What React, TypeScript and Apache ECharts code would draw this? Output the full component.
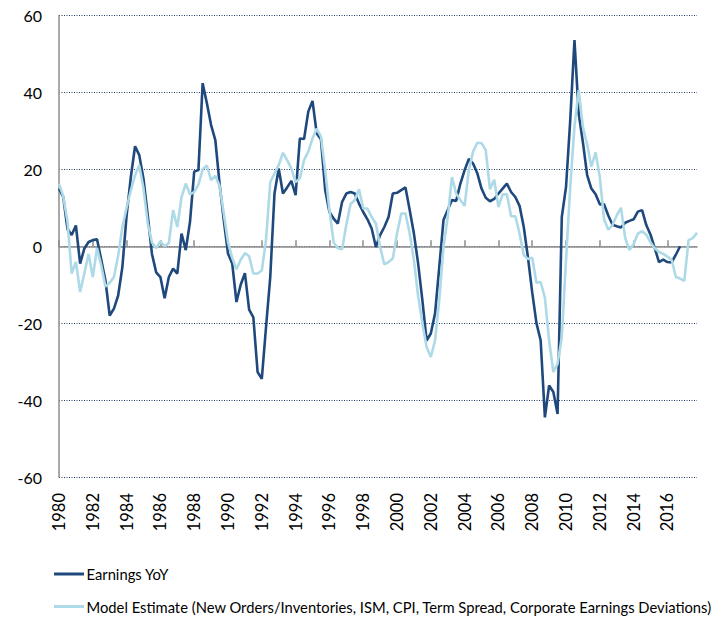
import React, { useEffect, useRef } from "react";
import * as echarts from "echarts";

const startYear = 1980;
const endYear = 2017;

// Quarterly categories 1980Q1 .. 2017Q4
const quarters: string[] = [];
for (let y = startYear; y <= endYear; y++) {
  for (let q = 1; q <= 4; q++) quarters.push(`${y}Q${q}`);
}

const yTicks = [-60, -40, -20, 0, 20, 40, 60];

// Earnings YoY, 1980Q1 .. 2016Q4
const earningsYoY = [
  15, 12.8, 4.5, 2.9,
  5.4, -4.5, -0.6, 1.1,
  1.6, 1.8, -3.5, -9,
  -18, -16.2, -12.8, -5.4,
  8, 18, 26, 23.7,
  17.5, 8, -2, -6.8,
  -8, -13.5, -8, -5.8,
  -7.1, 3.3, -1, 6.3,
  19.4, 19.8, 42.4, 37.2,
  31.5, 27.6, 16.3, 6.8,
  -1.9, -4.5, -14.5, -10,
  -7, -16.5, -18.5, -32.7,
  -34.5, -21, -8, 13.7,
  20.2, 13.7, 15.3, 17,
  13.3, 28, 27.9, 35,
  37.8, 29.3, 27.8, 14.6,
  8.9, 7.2, 5.9, 11.5,
  13.7, 14.1, 13.7, 11.1,
  8.9, 7, 4.6, -0.2,
  2.9, 5, 7.6, 13.7,
  13.9, 14.6, 15.3, 9.4,
  3.3, -4.5, -14, -24.5,
  -22.7, -17.5, -5.4, 6.8,
  9.4, 12, 11.8, 16.3,
  19.8, 22.7, 21.5, 19,
  15, 12.6, 11.7, 12.3,
  13.7, 15, 16.3, 14.1,
  12.8, 10.5, 5, -3,
  -12, -20, -24.5, -44.5,
  -36.2, -37.9, -43.6, 7.6,
  15.4, 32.8, 53.6, 34.5,
  27, 18.5, 15, 13.5,
  10.9, 10.9, 8, 5.6,
  5.2, 4.9, 6.1, 6.6,
  7, 9, 9.4, 5.5,
  3, -0.5, -4.1, -3.5,
  -4.1, -4.2, -2.2, 0,
];

// Model Estimate, 1980Q1 .. 2017Q4
const modelEstimate = [
  16.3, 13, 6.5, -7.1,
  -4.1, -11.9, -7, -2,
  -8, -0.5, -5, -10.5,
  -9.5, -8, -2.5, 5,
  10, 14.5, 18.5, 21,
  15, 6, 1, -0.5,
  1.3, 0, 0.8, 9.4,
  5, 12.8, 16.3, 13.5,
  14.1, 16, 20, 21,
  17.2, 18.3, 15.7, 8.5,
  1, -3, -6, -3.5,
  -1.8, -2.6, -7.1, -7.1,
  -6.3, 1.6, 16.7, 18.9,
  21.1, 24.3, 22.4, 20.2,
  16.7, 17.6, 22.4, 24.6,
  28, 30.6, 28.5, 19.8,
  9.4, 1, -0.5, -0.8,
  5.5, 11, 12, 14.8,
  9.8, 9.8, 7.6, 5.9,
  -0.2, -4.7, -4.1, -3.2,
  3.3, 8.5, 8.5, 3.3,
  -3.6, -13, -20, -26.2,
  -28.8, -24.5, -14, -0.2,
  7.6, 18, 13.7, 12,
  10.5, 19.8, 24.6, 26.9,
  26.8, 25, 14.8, 17.3,
  10.2, 13.5, 13.5, 7.8,
  7.8, 3.3, -2.3, -3.3,
  -3, -9.5, -9.3, -13.4,
  -24.5, -32.7, -30.6, -23.6,
  -3.6, 15.4, 31.1, 40.6,
  31, 26.5, 20.7, 24.4,
  18, 7, 4.3, 5.5,
  8, 10, 2.2, -1,
  0.5, 3.3, 3.9, 3,
  1, -0.5, -1.5, -2,
  -2.7, -3.5, -8, -8.4,
  -9, 1.6, 2.1, 3.5,
];

const seriesNames = [
  "Earnings YoY",
  "Model Estimate (New Orders/Inventories, ISM, CPI, Term Spread, Corporate Earnings Deviations)",
];

const DARK = "#1F497D";
const LIGHT = "#ADDAE6";
const FONT = "Lato";
const COLORS = [DARK, LIGHT];

export default function App() {
  const ref = useRef<HTMLDivElement>(null);
  useEffect(() => {
    if (!ref.current) return;
    const chart = echarts.init(ref.current, null, { renderer: "svg" });

    const legendRowsY = [574, 606.5];
    const legendGraphics: any[] = [];
    seriesNames.forEach((name, i) => {
      legendGraphics.push({
        type: "line",
        shape: { x1: 54, y1: legendRowsY[i], x2: 84, y2: legendRowsY[i] },
        style: { stroke: COLORS[i], lineWidth: 3 },
        silent: true,
      });
      legendGraphics.push({
        type: "text",
        x: 86.5,
        y: legendRowsY[i],
        style: {
          text: name,
          fontFamily: FONT,
          fontSize: 14.75,
          fill: "#000",
          verticalAlign: "middle",
          align: "left",
        },
        silent: true,
      });
    });

    chart.setOption({
      animation: false,
      backgroundColor: "#ffffff",
      grid: { left: 59, right: 22, top: 15.5, bottom: 140 },
      xAxis: [
        {
          type: "category",
          data: quarters,
          boundaryGap: false,
          position: "bottom",
          axisLine: { show: false, onZero: false },
          axisTick: { show: false },
          splitLine: { show: false },
          axisLabel: {
            interval: 7,
            rotate: 90,
            margin: 16,
            fontFamily: FONT,
            fontSize: 16.5,
            color: "#000",
            formatter: (v: string) => v.slice(0, 4),
          },
        },
        {
          type: "category",
          data: quarters,
          boundaryGap: false,
          position: "bottom",
          axisLine: { show: true, onZero: true, lineStyle: { color: "#8c8c8c", width: 1.5 } },
          axisTick: {
            show: true,
            inside: true,
            interval: 7,
            length: 6,
            lineStyle: { color: "#8c8c8c", width: 1.5 },
          },
          axisLabel: { show: false },
          splitLine: { show: false },
        },
      ],
      yAxis: {
        type: "value",
        min: yTicks[0],
        max: yTicks[yTicks.length - 1],
        interval: 20,
        axisLine: { show: true, lineStyle: { color: "#8c8c8c", width: 1.5 } },
        axisTick: { show: false },
        axisLabel: {
          margin: 17,
          fontFamily: FONT,
          fontSize: 16,
          color: "#000",
        },
        splitLine: {
          show: true,
          lineStyle: { color: "#1F3864", width: 1, type: [1, 1.5] },
        },
      },
      graphic: legendGraphics,
      series: [
        {
          name: seriesNames[0],
          type: "line",
          xAxisIndex: 0,
          data: earningsYoY,
          symbol: "none",
          lineStyle: { color: DARK, width: 2.6 },
          itemStyle: { color: DARK },
        },
        {
          name: seriesNames[1],
          type: "line",
          xAxisIndex: 0,
          data: modelEstimate,
          symbol: "none",
          lineStyle: { color: LIGHT, width: 2.6 },
          itemStyle: { color: LIGHT },
        },
      ],
    });
    return () => chart.dispose();
  }, []);
  return (
    <div
      ref={ref}
      style={{ position: "fixed", left: 0, top: 0, width: 719, height: 617 }}
    />
  );
}
